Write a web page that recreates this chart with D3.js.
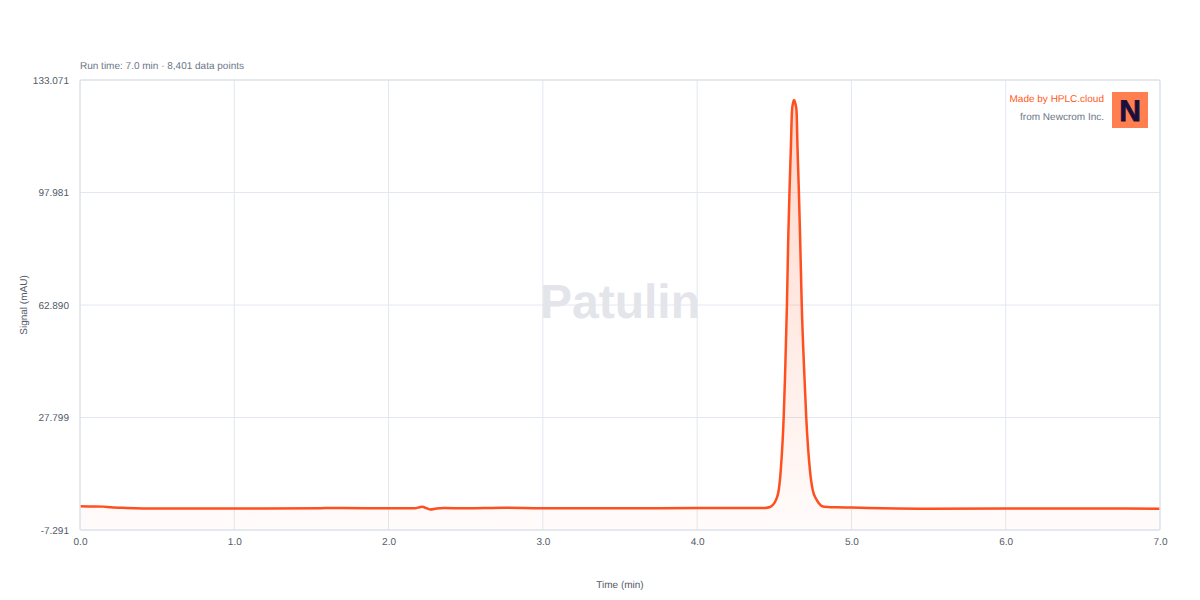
<!DOCTYPE html>
<html>
<head>
<meta charset="utf-8">
<script src="https://cdn.jsdelivr.net/npm/d3@7"></script>
<style>
    html, body { margin: 0; padding: 0; background: #fff; }
    svg { display: block; }
    text { font-family: "Liberation Sans", Arial, sans-serif; text-rendering: geometricPrecision; }
</style>
</head>
<body>
<svg id="chart"></svg>
<script>
(function(){
    "use strict";

    // values
    var times = [0, 0.05, 0.1, 0.15, 0.2, 0.3, 0.5, 0.8, 1.2, 1.7, 2.0, 2.17, 2.2, 2.22, 2.24, 2.27, 2.31, 2.36, 2.5, 2.75, 3.0, 3.5, 4.0, 4.3, 4.4, 4.44, 4.472, 4.49, 4.511, 4.529, 4.542, 4.561, 4.57, 4.582, 4.591, 4.5985, 4.607, 4.615, 4.622, 4.628, 4.635, 4.644, 4.651, 4.6595, 4.667, 4.678, 4.695, 4.707, 4.731, 4.749, 4.775, 4.795, 4.816, 4.85, 4.9, 5.0, 5.2, 5.5, 6.0, 6.5, 7.0];
    var signal = [0.1, 0.05, 0.05, 0, -0.2, -0.4, -0.6, -0.55, -0.55, -0.45, -0.5, -0.5, -0.2, 0, -0.4, -0.9, -0.6, -0.45, -0.5, -0.35, -0.5, -0.5, -0.45, -0.45, -0.45, -0.4, -0.12, 0.5, 2.1, 5.2, 11.4, 27.95, 41.05, 62.9, 84.7, 98.1, 111.2, 123.7, 126, 126.8, 126, 123.7, 111.2, 98.1, 84.7, 62.9, 41.05, 27.95, 11.4, 5.2, 2.1, 0.7, 0.05, -0.12, -0.22, -0.3, -0.5, -0.65, -0.6, -0.6, -0.65];
    var xTicks = [0, 1, 2, 3, 4, 5, 6, 7];
    var yTicks = [-7.291, 27.799, 62.890, 97.981, 133.071];

    var width = 1200,
        height = 600,
        left = 80,
        right = 1160,
        top = 80,
        bottom = 530;

    var points = times.map(function(t, i) { return {t: t, v: signal[i]}; });

    var x = d3.scaleLinear().domain([0, 7]).range([left, right]);
    var y = d3.scaleLinear().domain([-7.291, 133.071]).range([bottom, top]);

    var svg = d3.select("svg#chart")
        .attr("width", width)
        .attr("height", height);

    // area fades out towards the baseline
    var gradient = svg.append("defs").append("linearGradient")
        .attr("id", "fade")
        .attr("gradientUnits", "userSpaceOnUse")
        .attr("x1", 0).attr("x2", 0)
        .attr("y1", top).attr("y2", bottom);
    gradient.append("stop").attr("offset", 0).attr("stop-color", "#ff5722").attr("stop-opacity", 0.25);
    gradient.append("stop").attr("offset", 1).attr("stop-color", "#ff5722").attr("stop-opacity", 0.02);

    // grid
    svg.append("g").selectAll("line")
        .data(xTicks.slice(1, -1))
        .enter().append("line")
        .attr("x1", function(d) { return x(d); })
        .attr("x2", function(d) { return x(d); })
        .attr("y1", top)
        .attr("y2", bottom)
        .attr("stroke", "#e2e8f0");

    svg.append("g").selectAll("line")
        .data(yTicks.slice(1, -1))
        .enter().append("line")
        .attr("x1", left)
        .attr("x2", right)
        .attr("y1", function(d) { return y(d); })
        .attr("y2", function(d) { return y(d); })
        .attr("stroke", "#e2e8f0");

    // watermark
    svg.append("text")
        .attr("x", 620)
        .attr("y", 318)
        .attr("text-anchor", "middle")
        .attr("font-size", 48)
        .attr("font-weight", "bold")
        .attr("fill", "#e3e5ea")
        .text("Patulin");

    var area = d3.area()
        .x(function(d) { return x(d.t); })
        .y0(bottom)
        .y1(function(d) { return y(d.v); })
        .curve(d3.curveMonotoneX);

    var line = d3.line()
        .x(function(d) { return x(d.t); })
        .y(function(d) { return y(d.v); })
        .curve(d3.curveMonotoneX);

    svg.append("path")
        .datum(points)
        .attr("d", area)
        .attr("fill", "url(#fade)");

    svg.append("path")
        .datum(points)
        .attr("d", line)
        .attr("fill", "none")
        .attr("stroke", "#ff4f1f")
        .attr("stroke-width", 2.5);

    // plot frame
    svg.append("rect")
        .attr("x", left)
        .attr("y", top)
        .attr("width", right - left)
        .attr("height", bottom - top)
        .attr("rx", 1.5)
        .attr("fill", "none")
        .attr("stroke", "#dbe1ea")
        .attr("stroke-width", 1.5);

    // axes
    var xAxis = svg.append("g")
        .attr("transform", "translate(0," + bottom + ")")
        .call(d3.axisBottom(x).tickValues(xTicks).tickSize(0).tickPadding(8).tickFormat(d3.format(".1f")));

    var yAxis = svg.append("g")
        .attr("transform", "translate(" + left + ",0)")
        .call(d3.axisLeft(y).tickValues(yTicks).tickSize(0).tickPadding(11).tickFormat(function(d) { return d.toFixed(3); }));

    [xAxis, yAxis].forEach(function(axis) {
        axis.select(".domain").remove();
        axis.selectAll("text")
            .attr("font-family", "Liberation Sans, Arial, sans-serif")
            .attr("font-size", 10)
            .attr("fill", "#525a68");
    });

    // labels
    svg.append("text")
        .attr("x", 80)
        .attr("y", 69)
        .attr("font-size", 10)
        .attr("fill", "#6b7688")
        .text("Run time: 7.0 min · 8,401 data points");

    svg.append("text")
        .attr("x", 620)
        .attr("y", 588)
        .attr("text-anchor", "middle")
        .attr("font-size", 10)
        .attr("fill", "#525a68")
        .text("Time (min)");

    svg.append("text")
        .attr("transform", "translate(27,305) rotate(-90)")
        .attr("text-anchor", "middle")
        .attr("font-size", 10)
        .attr("fill", "#525a68")
        .text("Signal (mAU)");

    // branding
    svg.append("text")
        .attr("x", 1104)
        .attr("y", 102)
        .attr("text-anchor", "end")
        .attr("font-size", 10)
        .attr("fill", "#ff5722")
        .text("Made by HPLC.cloud");

    svg.append("text")
        .attr("x", 1104)
        .attr("y", 120)
        .attr("text-anchor", "end")
        .attr("font-size", 10)
        .attr("fill", "#6b7688")
        .text("from Newcrom Inc.");

    svg.append("rect")
        .attr("x", 1112)
        .attr("y", 92)
        .attr("width", 36)
        .attr("height", 36)
        .attr("fill", "#ff7f50");

    svg.append("text")
        .attr("x", 1130)
        .attr("y", 121)
        .attr("text-anchor", "middle")
        .attr("font-size", 30)
        .attr("font-weight", "bold")
        .attr("fill", "#1a0f3c")
        .attr("stroke", "#1a0f3c")
        .attr("stroke-width", 0.8)
        .text("N");
})();
</script>
</body>
</html>
